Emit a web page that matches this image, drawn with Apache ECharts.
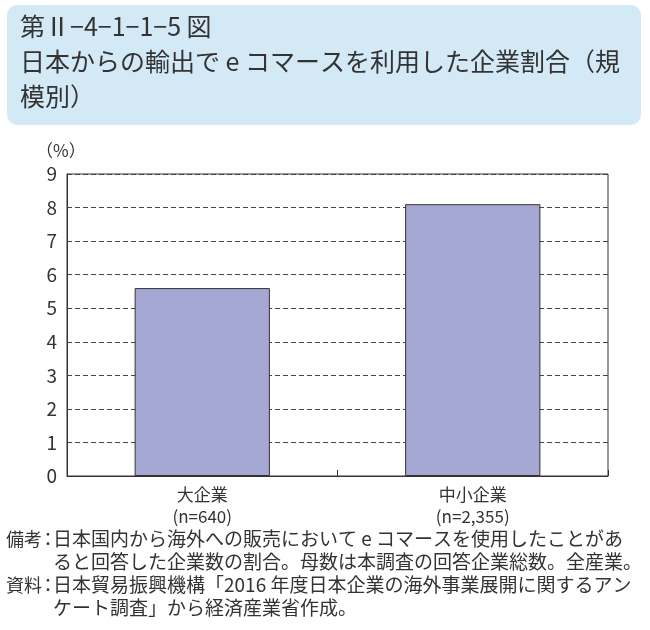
<!DOCTYPE html>
<html><head><meta charset="utf-8">
<script src="https://cdn.jsdelivr.net/npm/echarts@6/dist/echarts.min.js"></script>
<style>html,body{margin:0;padding:0;background:#fff}#c{width:650px;height:630px}</style>
</head><body><div id="c"></div>
<script>
const categories = ['大企業\n(n=640)', '中小企業\n(n=2,355)'];
const values = [5.6, 8.1];
const yTicks = [0, 1, 2, 3, 4, 5, 6, 7, 8, 9];
const titleLines = ['第Ⅱ−4−1−1−5 図', '日本からの輸出で e コマースを利用した企業割合（規', '模別）'];
const noteLines = [
  ['備考', '日本国内から海外への販売において e コマースを使用したことがあ'],
  ['', 'ると回答した企業数の割合。母数は本調査の回答企業総数。全産業。'],
  ['資料', '日本貿易振興機構「2016 年度日本企業の海外事業展開に関するアン'],
  ['', 'ケート調査」から経済産業省作成。']
];
const font = '"Noto Sans CJK JP","Noto Sans",sans-serif';
const chart = echarts.init(document.getElementById('c'));
const graphics = [
  {type:'rect', shape:{x:7,y:5,width:634,height:120,r:10}, style:{fill:'#d3e9f6'}, z:0}
];
titleLines.forEach((t,i)=>graphics.push({type:'text', left:20, top:14+i*35, style:{text:t, font:'25px '+font, fill:'#333'}}));
noteLines.forEach((l,i)=>{
  if (l[0]) {
    graphics.push({type:'text', left:6, top:530+i*23, style:{text:l[0], font:'18px '+font, fill:'#333'}});
    graphics.push({type:'text', left:39, top:530+i*23, style:{text:'：', font:'18px '+font, fill:'#333'}});
  }
  graphics.push({type:'text', left:53, top:529+i*23, style:{text:l[1], font:'19px '+font, fill:'#333'}});
});
graphics.push({type:'text', left:36, top:142, style:{text:'（%）', font:'17px '+font, fill:'#333'}});
chart.setOption({
  animation:false,
  textStyle:{fontFamily:font},
  grid:{left:67, right:42, top:174, bottom:154, show:true, borderColor:'#333', borderWidth:1},
  graphic:graphics,
  xAxis:{type:'category', data:categories,
    axisLine:{lineStyle:{color:'#333'}},
    axisTick:{show:true, alignWithLabel:false, length:-6, lineStyle:{color:'#333'}},
    axisLabel:{color:'#333', fontSize:17, lineHeight:22, margin:8}},
  yAxis:{type:'value', min:0, max:9, interval:1,
    axisLine:{show:true, lineStyle:{color:'#333'}},
    axisTick:{show:false},
    axisLabel:{color:'#333', fontSize:19, margin:10, formatter:v=>yTicks.includes(v)?String(v):''},
    splitLine:{show:true, lineStyle:{color:'#444', type:[5,3], width:1}}},
  series:[{type:'bar', data:values, barWidth:'50%',
    itemStyle:{color:'#a6a8d4', borderColor:'#333', borderWidth:1}}]
});
</script></body></html>
